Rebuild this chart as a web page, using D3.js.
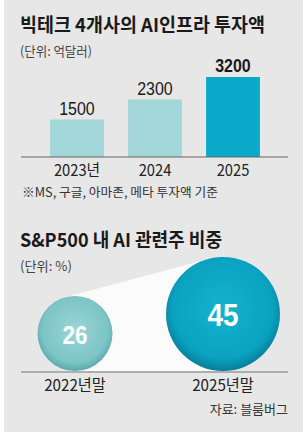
<!DOCTYPE html>
<html>
<head>
<meta charset="utf-8">
<script src="https://cdn.jsdelivr.net/npm/d3@7"></script>
<style>
  html, body { margin: 0; padding: 0; background: #fff; }
  svg { display: block; }
  .kr { font-family: "Noto Sans CJK KR", "Noto Sans", sans-serif; }
  .num { font-family: "Liberation Sans", Roboto, sans-serif; }
</style>
</head>
<body>
<div id="chart"></div>
<script>
// bar chart: big tech AI infra spend (억달러)
const years = ["2023년", "2024", "2025"];
const spend = [1500, 2300, 3200];

// bubble chart: AI stocks share of S&P500 (%)
const periods = ["2022년말", "2025년말"];
const share = [26, 45];

const width = 308, height = 437;

let svg = d3.select("#chart").append("svg")
    .attr("width", width)
    .attr("height", height);

let defs = svg.append("defs");

// squeeze text horizontally, the original uses a condensed face
function condense(sel, k) {
    sel.each(function() {
        let w = this.getComputedTextLength();
        d3.select(this)
            .attr("textLength", w * k)
            .attr("lengthAdjust", "spacingAndGlyphs");
    });
}

// panel
svg.append("rect")
    .attr("x", 4).attr("y", 0)
    .attr("width", 299).attr("height", 432)
    .attr("fill", "#e7e7e7");

// ---------- top chart ----------
svg.append("text").attr("class", "kr")
    .attr("x", 20).attr("y", 32)
    .attr("font-size", 19).attr("font-weight", 700)
    .attr("fill", "#1a1a1a")
    .attr("textLength", 245).attr("lengthAdjust", "spacingAndGlyphs")
    .text("빅테크 4개사의 AI인프라 투자액");

svg.append("text").attr("class", "kr")
    .attr("x", 20).attr("y", 56)
    .attr("font-size", 13).attr("fill", "#444")
    .attr("textLength", 72).attr("lengthAdjust", "spacingAndGlyphs")
    .text("(단위: 억달러)");

let x = d3.scaleBand()
    .domain(years)
    .range([38, 272])
    .paddingInner(0.31)
    .paddingOuter(0.155);

let y = d3.scaleLinear()
    .domain([0, 3200])
    .range([157, 77]);

svg.append("g")
    .selectAll("rect")
    .data(spend)
    .enter().append("rect")
    .attr("x", (d, i) => x(years[i]))
    .attr("y", d => y(d))
    .attr("width", x.bandwidth())
    .attr("height", d => y(0) - y(d))
    .attr("fill", (d, i) => i === 2 ? "#0aa9c9" : "#a2d6d9");

svg.append("g")
    .selectAll("text")
    .data(spend)
    .enter().append("text")
    .attr("class", "num")
    .attr("x", (d, i) => x(years[i]) + x.bandwidth() / 2)
    .attr("y", d => y(d) - 5)
    .attr("text-anchor", "middle")
    .attr("font-size", 19)
    .attr("font-weight", (d, i) => i === 2 ? 700 : 400)
    .attr("fill", "#1a1a1a")
    .text(d => d)
    .call(condense, 0.84);

// baseline + year labels
let xAxis = svg.append("g")
    .attr("transform", "translate(0,157)")
    .call(d3.axisBottom(x).tickSize(0).tickPadding(8));
xAxis.select(".domain").remove();
xAxis.append("line")
    .attr("x1", 21).attr("x2", 288)
    .attr("stroke", "#666").attr("stroke-width", 1.2);
xAxis.selectAll(".tick text")
    .attr("class", "kr")
    .attr("font-size", 16)
    .attr("fill", "#222")
    .attr("dy", "0.71em")
    .call(condense, 0.92);

svg.append("text").attr("class", "kr")
    .attr("x", 22).attr("y", 197)
    .attr("font-size", 12.5).attr("fill", "#333")
    .attr("textLength", 196).attr("lengthAdjust", "spacingAndGlyphs")
    .text("※MS, 구글, 아마존, 메타 투자액 기준");

// ---------- bottom chart ----------
svg.append("text").attr("class", "kr")
    .attr("x", 20).attr("y", 247)
    .attr("font-size", 19).attr("font-weight", 700)
    .attr("fill", "#1a1a1a")
    .attr("textLength", 202).attr("lengthAdjust", "spacingAndGlyphs")
    .text("S&P500 내 AI 관련주 비중");

svg.append("text").attr("class", "kr")
    .attr("x", 20).attr("y", 271)
    .attr("font-size", 13).attr("fill", "#444")
    .attr("textLength", 52).attr("lengthAdjust", "spacingAndGlyphs")
    .text("(단위: %)");

const base = 371;

let px = d3.scalePoint()
    .domain(periods)
    .range([75, 223]);

let r = d3.scaleLinear()
    .domain([26, 45])
    .range([37.5, 57]);

let bubbles = share.map((v, i) => ({
    label: periods[i], value: v,
    cx: px(periods[i]), r: r(v), cy: base - r(v)
}));

// white light-beam between circles (upper external tangent)
let c1 = bubbles[0], c2 = bubbles[1];
let dx = c2.cx - c1.cx, dy = c2.cy - c1.cy;
let dist = Math.hypot(dx, dy);
let ang = Math.atan2(dy, dx);
let off = Math.acos((c1.r - c2.r) / dist);
let a = ang - off;
let t1 = [c1.cx + c1.r * Math.cos(a), c1.cy + c1.r * Math.sin(a)];
let t2 = [c2.cx + c2.r * Math.cos(a), c2.cy + c2.r * Math.sin(a)];
svg.append("path")
    .attr("d", d3.line()([t1, t2, [c2.cx, base], [c1.cx, base]]) + "Z")
    .attr("fill", "#fbfbfb");

// gradients for the balls
let grads = [["g0", "#9ad6d6", "#7cc4c5", "#5aa9ab"], ["g1", "#14b3d0", "#0aa2c1", "#077f9a"]];
grads.forEach(g => {
    let rg = defs.append("radialGradient")
        .attr("id", g[0])
        .attr("cx", "50%").attr("cy", "45%").attr("r", "55%");
    rg.append("stop").attr("offset", "0%").attr("stop-color", g[1]);
    rg.append("stop").attr("offset", "80%").attr("stop-color", g[2]);
    rg.append("stop").attr("offset", "100%").attr("stop-color", g[3]);
});

svg.append("g")
    .selectAll("circle")
    .data(bubbles)
    .enter().append("circle")
    .attr("cx", d => d.cx)
    .attr("cy", d => d.cy)
    .attr("r", d => d.r)
    .attr("fill", (d, i) => "url(#g" + i + ")");

svg.append("g")
    .selectAll("text")
    .data(bubbles)
    .enter().append("text")
    .attr("class", "num")
    .attr("x", d => d.cx)
    .attr("y", d => d.cy + 1)
    .attr("dy", "0.36em")
    .attr("text-anchor", "middle")
    .attr("font-size", (d, i) => i === 0 ? 25 : 31)
    .attr("font-weight", 700)
    .attr("fill", "#fff")
    .text(d => d.value)
    .call(condense, 0.9);

svg.append("line")
    .attr("x1", 21).attr("x2", 288)
    .attr("y1", base + 1).attr("y2", base + 1)
    .attr("stroke", "#777").attr("stroke-width", 1.2);

svg.append("g")
    .selectAll("text")
    .data(bubbles)
    .enter().append("text")
    .attr("class", "kr")
    .attr("x", d => d.cx)
    .attr("y", 391)
    .attr("text-anchor", "middle")
    .attr("font-size", 16)
    .attr("fill", "#222")
    .text(d => d.label)
    .call(condense, 0.95);

svg.append("text").attr("class", "kr")
    .attr("x", 288).attr("y", 414)
    .attr("text-anchor", "end")
    .attr("font-size", 13).attr("fill", "#333")
    .text("자료: 블룸버그");
</script>
</body>
</html>
